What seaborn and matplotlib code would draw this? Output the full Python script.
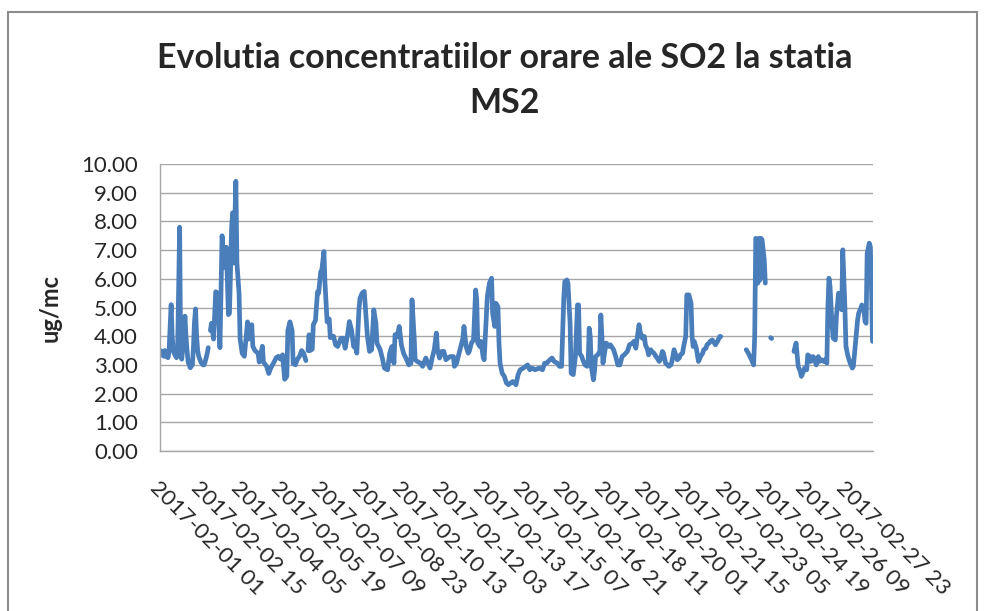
import numpy as np
import pandas as pd
import matplotlib
matplotlib.use('Agg')
import matplotlib.pyplot as plt
import seaborn as sns
from matplotlib.patches import Rectangle

# hourly SO2 at station MS2, February 2017 (hour 0 = 2017-02-01 01)
# NaN marks hours without data (gaps in the line)
nan = np.nan
hours = [
    0, 1, 2, 3, 4, 5, 6, 7, 8, 9, 10, 11, 12, 13, 15, 16, 17, 18, 19, 20, 22, 23, 24, 25, 26, 28,
    30, 31, 32, 33, 34, 35, 36, 38, 40, 41, 42, 44, 45,
    46,
    47, 48, 50, 52, 54, 56, 58, 60, 62, 64, 65, 67, 68, 69, 71, 72, 74, 75, 77, 79, 82, 83, 86, 87,
    89, 92, 93, 96, 97, 100, 102, 104, 107, 109, 111, 113, 115, 117, 119, 120, 122, 124, 125, 127,
    129, 131, 133, 135, 137,
    138,
    139, 140, 141, 143, 144, 146, 148, 149, 151, 152, 154, 155, 157, 159, 160, 163, 165, 167, 170,
    172, 174, 176, 178, 180, 182, 184, 185, 187, 188, 190, 192, 193, 195, 197, 199, 201, 203, 204,
    207, 209, 211, 214, 216, 218, 220, 221, 223, 225, 227, 229, 232, 234, 236, 237, 239, 240, 242,
    245, 247, 250, 252, 254, 256, 258, 260, 261, 263, 265, 267, 269, 271, 273, 276, 277, 279, 281,
    283, 285, 286, 288, 290, 291, 293, 295, 297, 298, 299, 301, 302, 304, 305, 307, 308, 310, 312,
    313, 315, 316, 318, 319, 320, 322, 324, 326, 328, 330, 332, 335, 337, 339, 342, 346, 348, 350,
    353, 357, 360, 362, 364, 367, 369, 371, 374, 376, 378, 380, 381, 383, 384, 386, 387, 389, 391,
    393, 394, 395, 397, 398, 400, 402, 403, 404, 405, 406, 408, 409, 410, 412, 414, 415, 416, 417,
    419, 420, 423, 424, 427, 429, 431, 433, 435, 437, 440, 442, 445, 446, 448, 449, 451, 452, 454,
    456, 457, 459, 460, 462, 463, 465, 467, 468, 470, 471, 473, 474, 476, 478, 479, 481, 482, 484,
    485, 487, 489, 490, 492, 493, 495, 496, 498, 500, 501, 502, 503, 505, 507, 509, 511, 512, 514,
    515, 517, 518, 520, 522, 523, 525, 527, 528,
    540,
    552, 554, 557, 559, 560, 561, 562, 563, 564, 565, 566, 567, 569, 570,
    572,
    575, 576,
    586,
    597, 599, 601, 603, 604, 606, 607, 609, 610, 612, 613, 615, 616, 618, 620, 621, 623, 625, 626,
    628, 629, 630, 631, 633, 634, 636, 637, 639, 640, 642, 643, 645, 646, 648, 650, 652, 653, 655,
    657, 658, 660, 661, 663, 664, 665, 666, 668, 669, 670, 671,
]
so2 = [
    3.5, 3.35, 3.45, 3.3, 3.5, 3.3, 3.45, 3.25, 3.45, 4.3, 5.1, 4.0, 3.5, 3.4, 3.25, 3.4, 5.5, 7.8,
    3.3, 3.2, 4.0, 4.7, 4.0, 3.5, 3.1, 2.9,
    3.0, 3.6, 4.5, 4.95, 4.0, 3.5, 3.3, 3.1, 3.0, 3.0, 3.1, 3.4, 3.6,
    nan,
    4.2, 4.45, 3.9, 5.55, 5.5, 3.6, 7.5, 6.4, 7.1, 4.75, 4.8, 7.8, 8.3, 6.55, 9.4, 6.55, 5.5, 3.9,
    3.4, 3.3, 4.5, 3.9, 4.4, 3.65,
    3.5, 3.4, 3.1, 3.65, 3.1, 2.95, 2.7, 2.9, 3.1, 3.25, 3.3, 3.2, 3.35, 2.5, 2.6, 4.2, 4.5, 4.2,
    3.05, 3.0,
    3.2, 3.3, 3.5, 3.4, 3.15,
    nan,
    3.5, 4.05, 3.5, 3.55, 4.4, 4.55, 5.55, 5.5, 6.25, 6.3, 6.95, 5.85, 4.5, 4.6, 3.95, 4.0, 3.7,
    3.64, 3.93,
    3.93, 3.58, 3.99, 4.51, 4.22, 3.64, 3.58, 3.41, 4.92, 5.32, 5.5, 5.56, 5.03, 3.99, 3.47, 3.53,
    4.92, 4.45, 3.76,
    3.53, 3.24, 2.89, 2.83, 3.41, 3.64, 3.06, 4.05, 3.99, 4.34, 3.7, 3.41, 3.18, 3.0, 3.06, 5.27,
    3.99, 3.18, 3.12,
    3.06, 2.95, 3.24, 3.06, 2.89, 3.24, 3.53, 4.11, 3.53, 3.24, 3.47, 3.47, 3.18, 3.24, 3.29, 3.29,
    2.95, 3.06, 3.35,
    3.64, 3.93, 4.34, 3.64, 3.41, 3.47, 3.76, 3.87, 5.61, 5.27, 3.76, 3.64, 3.82, 3.29, 3.18, 4.69,
    5.38, 5.85, 6.02,
    4.8, 4.34, 5.15, 5.03, 3.76, 3.06, 2.71, 2.6, 2.37, 2.31, 2.37, 2.42, 2.31, 2.66, 2.83, 2.89,
    3.0, 2.83, 2.89,
    2.83, 2.89, 2.83, 3.06, 3.06, 3.18, 3.24, 3.12, 3.06, 2.95, 2.95, 5.27, 5.9, 5.96, 5.85, 4.45,
    2.71, 2.66, 3.29,
    5.09, 5.09, 3.41, 3.29, 3.18, 3.0, 2.95, 3.06, 4.28, 3.99, 2.95, 2.48, 2.77, 3.29, 3.35, 3.47,
    4.74, 3.99, 3.06,
    3.53, 3.76, 3.64, 3.7, 3.53, 3.29, 3.0, 3.0, 3.29, 3.35, 3.47, 3.7, 3.76, 3.82, 3.58, 3.87,
    4.4, 4.16, 3.93,
    3.99, 3.7, 3.53, 3.35, 3.53, 3.47, 3.41, 3.29, 3.24, 3.12, 3.18, 3.47, 3.41, 3.06, 3.0, 2.95,
    3.0, 3.12, 3.53,
    3.41, 3.18, 3.24, 3.35, 3.41, 3.64, 3.99, 5.44, 5.44, 5.15, 3.99, 3.64, 3.82, 3.58, 3.12, 3.29,
    3.41, 3.53, 3.58,
    3.7, 3.76, 3.82, 3.87, 3.76, 3.7, 3.82, 3.99, 3.99,
    nan,
    3.53, 3.41, 3.18, 3.0, 3.99, 7.41, 7.35, 5.85, 7.41, 5.96, 7.41, 7.35, 6.66, 5.85,
    nan,
    3.95, 3.92,
    nan,
    3.47, 3.76, 2.95, 2.77, 2.6, 2.77, 2.89, 2.83, 3.35, 3.29, 3.12, 3.29, 3.24, 3.0, 3.29, 3.12,
    3.18, 3.12, 3.18,
    3.06, 5.03, 6.02, 5.73, 4.34, 3.93, 3.87, 4.69, 5.5, 5.44, 4.92, 7.01, 5.03, 3.64, 3.29, 3.06,
    2.89, 2.95, 3.76,
    4.57, 4.8, 4.98, 5.09, 4.92, 4.51, 4.45, 6.89, 7.24, 7.12, 5.85, 3.82,
]

tick_labels = [
    '2017-02-01 01', '2017-02-02 15', '2017-02-04 05', '2017-02-05 19', '2017-02-07 09',
    '2017-02-08 23', '2017-02-10 13', '2017-02-12 03', '2017-02-13 17', '2017-02-15 07',
    '2017-02-16 21', '2017-02-18 11', '2017-02-20 01', '2017-02-21 15', '2017-02-23 05',
    '2017-02-24 19', '2017-02-26 09', '2017-02-27 23',
]
n_hours = 672
tick_step = 38

df = pd.DataFrame({'hour': hours, 'so2': so2})
# split into continuous pieces so the gaps stay empty
df['segment'] = df['so2'].isna().cumsum()
df = df.dropna(subset=['so2'])

sns.set_style('white')
plt.rcParams['font.family'] = ['Lato', 'DejaVu Sans']

fig = plt.figure(figsize=(9.85, 6.11), dpi=100)
ax = fig.add_axes([160 / 985, 1 - 451 / 611, 713 / 985, 287 / 611])

sns.lineplot(data=df, x='hour', y='so2', units='segment', estimator=None,
             color='#4a7ebb', linewidth=3.4, ax=ax, solid_capstyle='round',
             solid_joinstyle='round')

ax.set_xlim(-0.5, n_hours - 0.5)
ax.set_ylim(0, 10)
ax.set_yticks(np.arange(0, 10.01, 1))
ax.set_yticklabels([f'{v:.2f}' for v in np.arange(0, 10.01, 1)], fontsize=16)
ax.set_xticks(range(0, n_hours, tick_step))
ax.set_xticklabels(tick_labels, fontsize=16, rotation=-45, ha='left', va='top',
                   rotation_mode='anchor')
ax.tick_params(axis='x', length=0, pad=19)
ax.tick_params(axis='y', length=0, pad=16)

ax.yaxis.grid(True, color='#a6a6a6', linewidth=1.0)
ax.set_axisbelow(True)
for side in ['top', 'right']:
    ax.spines[side].set_visible(False)
for side in ['left', 'bottom']:
    ax.spines[side].set_color('#a6a6a6')
    ax.spines[side].set_linewidth(1.0)

ax.set_xlabel('')
ax.set_ylabel('ug/mc', fontsize=17, fontweight='bold', labelpad=14)

fig.text(505 / 985, 1 - 58 / 611, 'Evolutia concentratiilor orare ale SO2 la statia',
         ha='center', va='center', fontsize=24.5, fontweight='bold')
fig.text(505 / 985, 1 - 103 / 611, 'MS2', ha='center', va='center',
         fontsize=24.5, fontweight='bold')

# chart area border
fig.add_artist(Rectangle((8 / 985, -0.05), 969 / 985, 1.05 - 12 / 611,
                         transform=fig.transFigure, fill=False,
                         edgecolor='#8c8c8c', linewidth=1.5))

fig.savefig('out.png', dpi=100)
